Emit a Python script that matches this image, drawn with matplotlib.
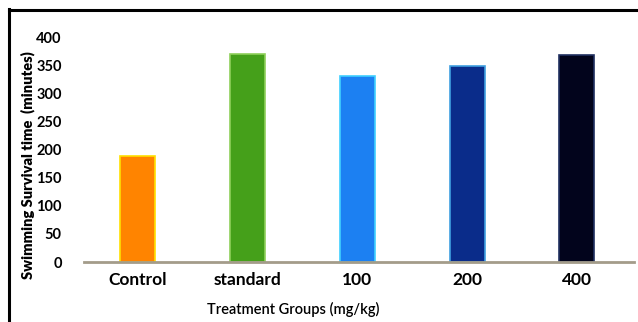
import matplotlib
matplotlib.use("Agg")
import matplotlib.pyplot as plt
from matplotlib.lines import Line2D

groups = ["Control", "standard", "100", "200", "400"]
survival_minutes = [188, 370, 330, 348, 368]
y_ticks = [0, 50, 100, 150, 200, 250, 300, 350, 400]

fill_colors = ["#FF8400", "#45A01A", "#1C80F2", "#0A2C8A", "#02041C"]
edge_colors = ["#FFE000", "#8FD05A", "#3FD0FF", "#3FA0E0", "#203060"]

plt.rcParams["font.family"] = ["Lato", "DejaVu Sans"]
plt.rcParams["font.weight"] = "bold"

fig = plt.figure(figsize=(6.38, 3.22), dpi=100)
ax = fig.add_axes([0.1317, 0.1863, 0.862, 0.6987])

x = range(len(groups))
ax.bar(x, survival_minutes, width=0.32, color=fill_colors,
       edgecolor=edge_colors, linewidth=1.2, zorder=2)

ax.set_xlim(-0.49, 4.52)
ax.set_ylim(0, 400)
ax.set_yticks(y_ticks)
ax.set_yticklabels([str(v) for v in y_ticks], fontsize=10.5, fontweight="bold")
ax.set_xticks(list(x))
ax.set_xticklabels(groups, fontsize=12.5, fontweight="bold")
ax.tick_params(axis="y", length=0, pad=16)
ax.tick_params(axis="x", length=0, pad=7)

for side in ["top", "right", "left"]:
    ax.spines[side].set_visible(False)
ax.spines["bottom"].set_color("#A39C8A")
ax.spines["bottom"].set_linewidth(2)
ax.spines["bottom"].set_zorder(3)

ax.set_ylabel("Swimming Survival time  (minutes)", fontsize=10.5,
              fontweight="heavy", labelpad=1, y=0.43)
ax.set_xlabel("Treatment Groups (mg/kg)", fontsize=10.5, fontweight="semibold",
              labelpad=10, x=0.38)

# black frame along the top and left edges
fig.add_artist(Line2D([9 / 638, 9 / 638], [0, 1 - 9 / 322],
                      transform=fig.transFigure, color="black", linewidth=2.2))
fig.add_artist(Line2D([9 / 638, 1], [1 - 10 / 322, 1 - 10 / 322],
                      transform=fig.transFigure, color="black", linewidth=2.2))

fig.savefig("out.png", dpi=100)
